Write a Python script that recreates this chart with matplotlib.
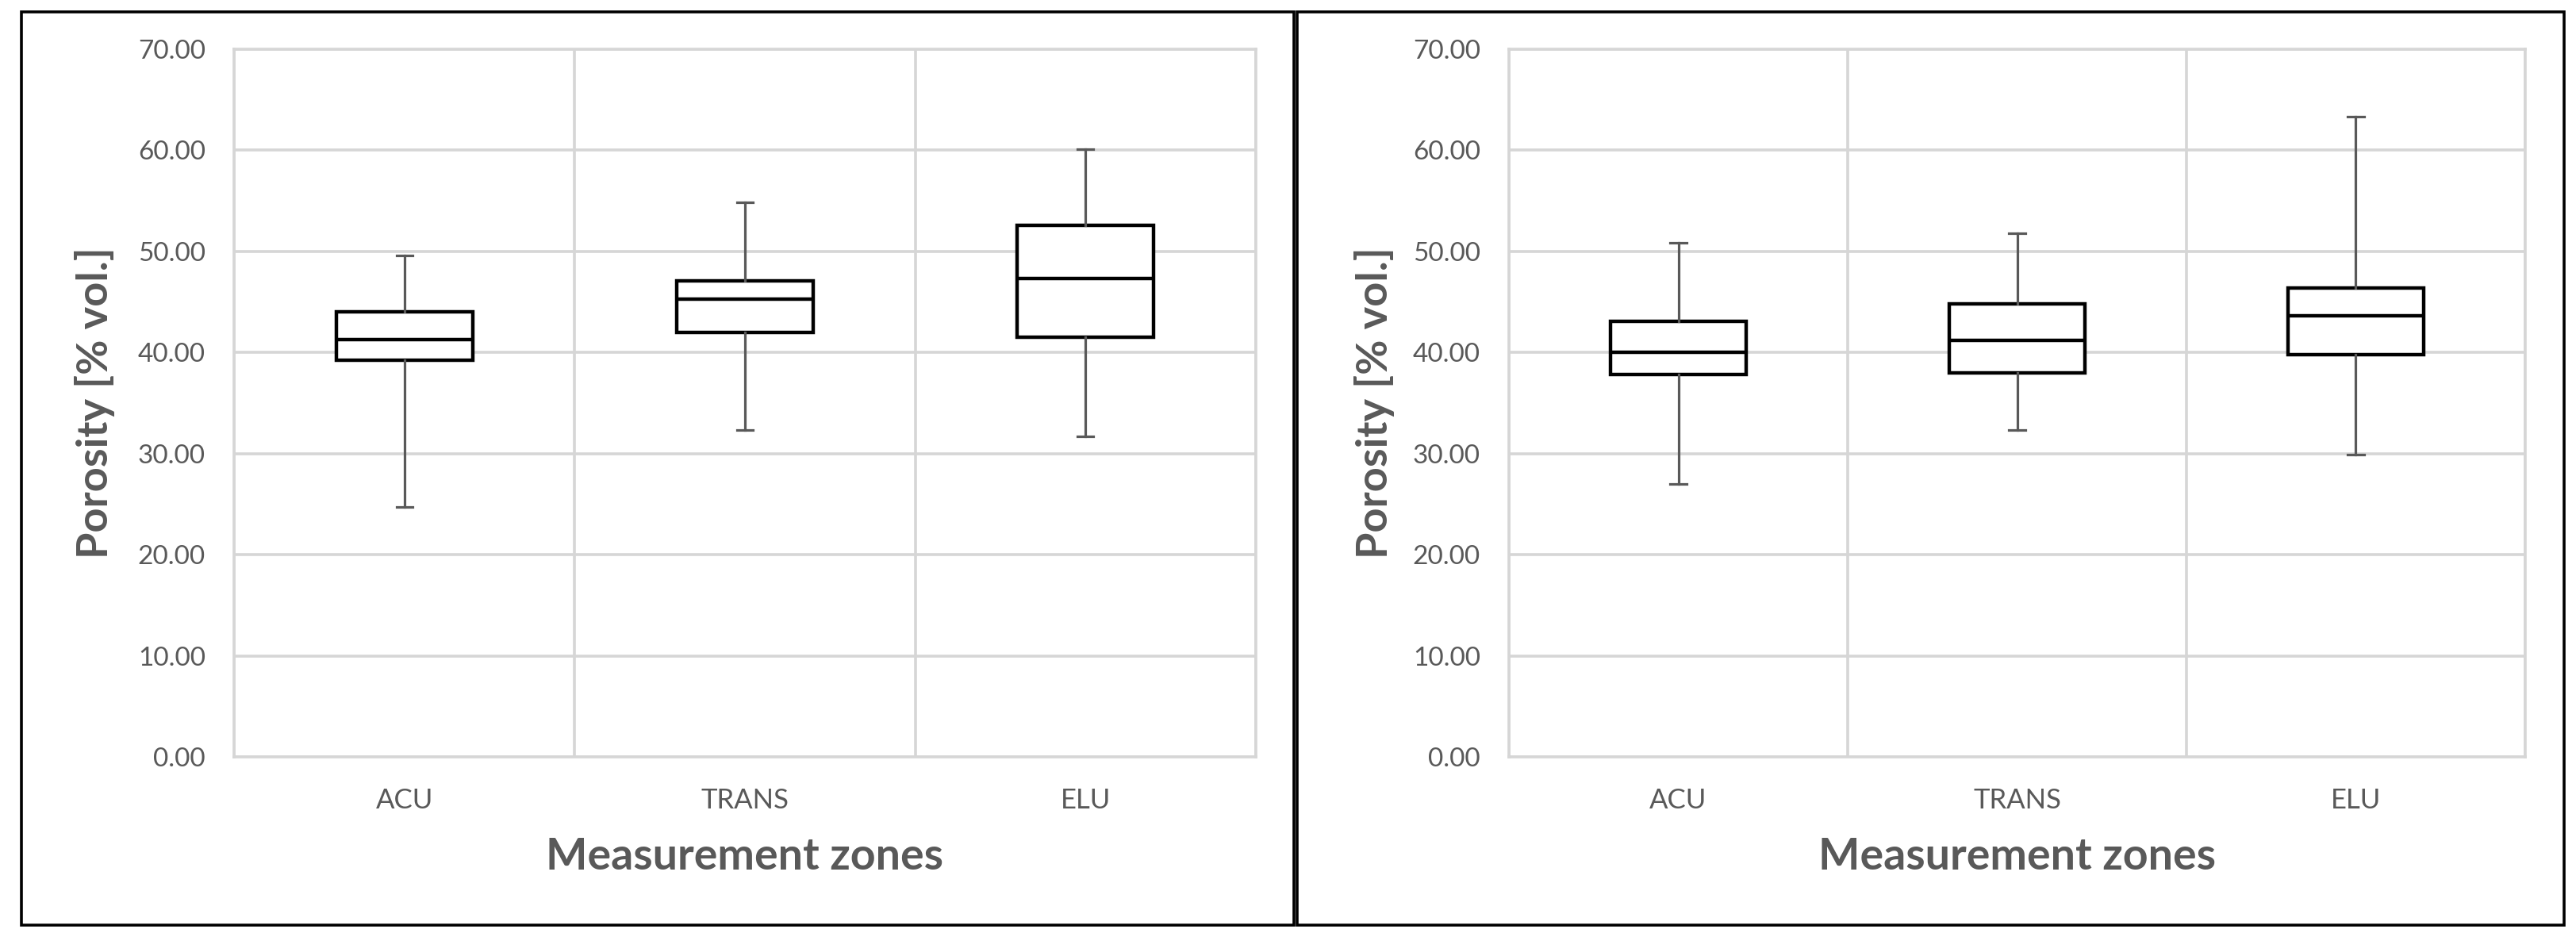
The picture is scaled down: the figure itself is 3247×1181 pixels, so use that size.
import matplotlib
matplotlib.use("Agg")
from matplotlib import pyplot as plt
from matplotlib.patches import Rectangle
import numpy as np

plt.rcParams['font.family'] = ['Lato', 'DejaVu Sans']

zones = ["ACU", "TRANS", "ELU"]

# left panel: whisker low, Q1, median, Q3, whisker high
left_low = [24.7, 32.3, 31.7]
left_q1 = [39.2, 42.0, 41.5]
left_med = [41.3, 45.3, 47.3]
left_q3 = [44.0, 47.1, 52.6]
left_high = [49.6, 54.8, 60.1]

# right panel
right_low = [27.0, 32.3, 29.9]
right_q1 = [37.8, 38.0, 39.8]
right_med = [40.0, 41.2, 43.6]
right_q3 = [43.1, 44.8, 46.4]
right_high = [50.8, 51.8, 63.3]

W, H = 3248, 1181
DPI = 200
GRID = "#d6d6d6"
TXT = "#595959"


def make_stats(low, q1, med, q3, high):
    stats = []
    for i in range(len(low)):
        stats.append({"whislo": low[i], "q1": q1[i], "med": med[i],
                      "q3": q3[i], "whishi": high[i], "fliers": []})
    return stats


def draw_panel(ax, stats, label_x):
    ax.set_axisbelow(True)
    ax.bxp(stats, positions=np.arange(len(zones)) + 0.5, widths=0.40,
           capwidths=0.047, showfliers=False, patch_artist=True,
           boxprops=dict(facecolor="white", edgecolor="black", linewidth=1.6),
           medianprops=dict(color="black", linewidth=1.6),
           whiskerprops=dict(color=TXT, linewidth=1.15),
           capprops=dict(color=TXT, linewidth=1.15))
    ax.set_xlim(0, len(zones))
    ax.set_ylim(0, 70)
    ax.set_yticks(np.arange(0, 71, 10))
    ax.set_yticklabels(["%.2f" % v for v in np.arange(0, 71, 10)])
    ax.set_xticks(np.arange(len(zones)) + 0.5)
    ax.set_xticklabels(zones)
    ax.set_xticks(np.arange(len(zones) + 1), minor=True)
    ax.grid(axis="y", which="major", color=GRID, linewidth=1.3)
    ax.grid(axis="x", which="minor", color=GRID, linewidth=1.3)
    ax.tick_params(which="both", length=0)
    ax.tick_params(axis="y", labelsize=12, labelcolor=TXT, pad=13)
    ax.tick_params(axis="x", labelsize=12.5, labelcolor=TXT, pad=14)
    for s in ax.spines.values():
        s.set_color(GRID)
        s.set_linewidth(1.3)
    ax.set_ylabel("Porosity [% vol.]", fontsize=19.5, fontweight="bold",
                  color=TXT, va="center")
    ax.yaxis.set_label_coords(label_x, 0.5)
    ax.set_xlabel("Measurement zones", fontsize=20, fontweight="bold",
                  color=TXT, va="center")
    ax.xaxis.set_label_coords(0.5, -0.1412)


fig = plt.figure(figsize=(W / DPI, H / DPI), dpi=DPI)

ax1 = fig.add_axes([295 / W, 1 - 954 / H, 1288 / W, 892.3 / H])
ax2 = fig.add_axes([1902 / W, 1 - 954 / H, 1281 / W, 892.3 / H])

draw_panel(ax1, make_stats(left_low, left_q1, left_med, left_q3, left_high), -0.1359)
draw_panel(ax2, make_stats(right_low, right_q1, right_med, right_q3, right_high), -0.1327)

# panel frames
for x0, x1 in [(27, 1631), (1635, 3232)]:
    fig.add_artist(Rectangle((x0 / W, 1 - 1166 / H), (x1 - x0) / W, (1166 - 15) / H,
                             transform=fig.transFigure, fill=False,
                             edgecolor="black", linewidth=1.3))

fig.savefig("out.png", dpi=DPI)
